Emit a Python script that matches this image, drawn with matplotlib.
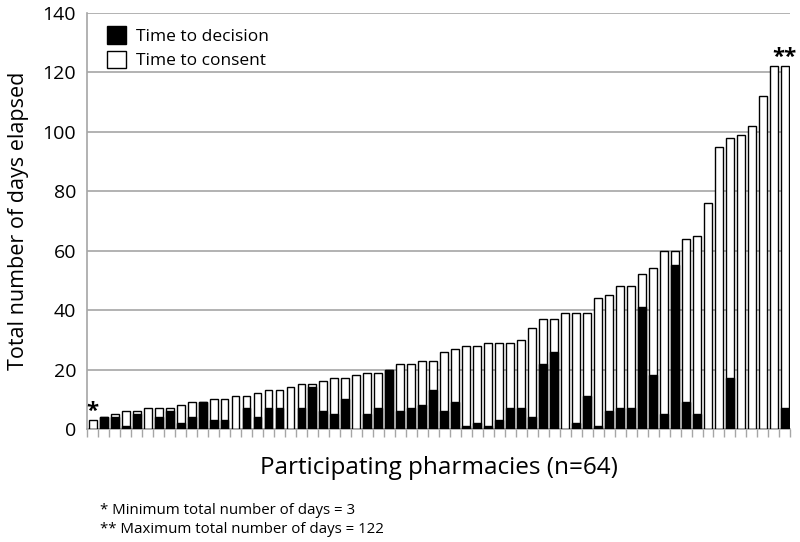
import matplotlib.pyplot as plt
from matplotlib.patches import Patch
import numpy as np

# total days to consent (white bar height) and days to decision (black part)
total_days = [3, 4, 5, 6, 6, 7, 7, 7, 8, 9, 9, 10, 10, 11, 11, 12,
              13, 13, 14, 15, 15, 16, 17, 17, 18, 19, 19, 20, 22, 22, 23, 23,
              26, 27, 28, 28, 29, 29, 29, 30, 34, 37, 37, 39, 39, 39, 44, 45,
              48, 48, 52, 54, 60, 60, 64, 65, 76, 95, 98, 99, 102, 112, 122, 122]
decision_days = [0, 4, 4, 1, 5, 0, 4, 6, 2, 4, 9, 3, 3, 0, 7, 4,
                 7, 7, 0, 7, 14, 6, 5, 10, 0, 5, 7, 20, 6, 7, 8, 13,
                 6, 9, 1, 2, 1, 3, 7, 7, 4, 22, 26, 0, 2, 11, 1, 6,
                 7, 7, 41, 18, 5, 55, 9, 5, 0, 0, 17, 0, 0, 0, 0, 7]
y_ticks = [0, 20, 40, 60, 80, 100, 120, 140]

plt.rcParams['font.family'] = ['Open Sans', 'DejaVu Sans']

fig = plt.figure(figsize=(8, 5.42), dpi=100)
ax = fig.add_axes([0.109, 0.2085, 0.879, 0.768])

x = np.arange(len(total_days))
ax.bar(x, total_days, width=0.72, color='white', edgecolor='black', linewidth=1, zorder=3)
ax.bar(x, decision_days, width=0.72, color='black', edgecolor='black', linewidth=1, zorder=4)

ax.set_xlim(-0.5, len(total_days) - 0.5)
ax.set_ylim(0, 140)
ax.set_yticks(y_ticks)
ax.tick_params(axis='y', labelsize=14, length=0, pad=8)
ax.yaxis.grid(True, color='#a6a6a6', linewidth=1.2, zorder=0)

# tick marks between bars, no labels
ax.set_xticks(np.arange(len(total_days) + 1) - 0.5)
ax.set_xticklabels([])
ax.tick_params(axis='x', direction='out', length=6, color='#a6a6a6', width=1)

for side in ['top', 'right']:
    ax.spines[side].set_visible(False)
for side in ['left', 'bottom']:
    ax.spines[side].set_color('#a6a6a6')
    ax.spines[side].set_linewidth(1.2)

ax.set_ylabel("Total number of days elapsed", fontsize=15.5, labelpad=10)
ax.set_xlabel("Participating pharmacies (n=64)", fontsize=17.5, labelpad=10)

# asterisks marking min and max
ax.text(x[0], total_days[0] - 0.5, "*", ha='center', va='bottom', fontsize=16, fontweight='bold')
ax.text(x[-1], total_days[-1] - 0.5, "**", ha='center', va='bottom', fontsize=16, fontweight='bold')

handles = [Patch(facecolor='black', edgecolor='black', label='Time to decision'),
           Patch(facecolor='white', edgecolor='black', label='Time to consent')]
ax.legend(handles=handles, loc='upper left', bbox_to_anchor=(0.01, 1.0), frameon=False,
          fontsize=12.5, handlelength=1.1, handleheight=1.2, handletextpad=0.55,
          labelspacing=0.35, borderaxespad=0.35)

fig.text(0.125, 0.052, "* Minimum total number of days = 3", fontsize=10.8)
fig.text(0.125, 0.017, "** Maximum total number of days = 122", fontsize=10.8)

fig.savefig("out.png", dpi=100)
